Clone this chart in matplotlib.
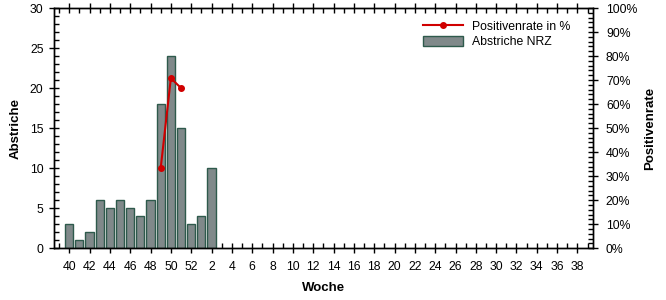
import numpy as np
import matplotlib
matplotlib.use("Agg")
import matplotlib.pyplot as plt
from matplotlib.ticker import MultipleLocator, FixedLocator, FuncFormatter

plt.rcParams['font.family'] = ['Liberation Sans', 'DejaVu Sans']

# weeks 40..52 then 1..39
weeks = list(range(40, 53)) + list(range(1, 40))
abstriche = [3, 1, 2, 6, 5, 6, 5, 4, 6, 18, 24, 15, 3, 4, 10]
rate_weeks = [49, 50, 51]
rate_pct = [33.3, 70.8, 66.7]

idx = np.arange(len(weeks))
rate_idx = [weeks.index(w) for w in rate_weeks]

fig = plt.figure(figsize=(6.66, 3.0), dpi=100)
ax = fig.add_axes([0.081, 0.173, 0.809, 0.8])
ax2 = ax.twinx()

bars = ax.bar(idx[:len(abstriche)], abstriche, width=0.8, color='#80898a',
              edgecolor='#2e5a4c', linewidth=1.0, label='Abstriche NRZ', zorder=2)
line, = ax2.plot(rate_idx, rate_pct, color='#d00000', lw=1.5, marker='o',
                 markersize=4, label='Positivenrate in %', zorder=3)

ax.set_xlim(-1.5, 51.5)
ax.set_ylim(0, 30)
ax2.set_ylim(0, 100)

ax.yaxis.set_major_locator(MultipleLocator(5))
ax.yaxis.set_minor_locator(MultipleLocator(1))
ax2.yaxis.set_major_locator(MultipleLocator(10))
ax2.yaxis.set_minor_locator(MultipleLocator(2))
ax2.yaxis.set_major_formatter(FuncFormatter(lambda v, p: f"{v:.0f}%"))

major_x = idx[::2]
ax.xaxis.set_major_locator(FixedLocator(major_x))
ax.xaxis.set_minor_locator(FixedLocator(np.arange(-1, 52)))
ax.set_xticklabels([str(weeks[i]) for i in major_x])

ax.tick_params(axis='both', which='major', direction='inout', length=7,
               width=1, labelsize=8.8, pad=4, top=True)
ax.tick_params(axis='both', which='minor', direction='in', length=3.5,
               width=1, top=True)
ax.tick_params(axis='x', which='major', pad=6)
ax2.tick_params(axis='y', which='major', direction='inout', length=7,
                width=1, labelsize=8.8, pad=6)
ax2.tick_params(axis='y', which='minor', direction='in', length=3.5, width=1)

for a in (ax, ax2):
    for s in a.spines.values():
        s.set_linewidth(1.0)

ax.set_ylabel('Abstriche', fontsize=9.5, fontweight='bold', labelpad=6)
ax2.set_ylabel('Positivenrate', fontsize=9.5, fontweight='bold', labelpad=5)
ax.set_xlabel('Woche', fontsize=9.5, fontweight='bold', labelpad=6)

ax2.legend([line, bars], ['Positivenrate in %', 'Abstriche NRZ'],
           loc='upper right', bbox_to_anchor=(0.975, 0.985), frameon=False,
           fontsize=8.8, handlelength=3.2, handleheight=0.9,
           borderpad=0.2, labelspacing=0.3)

fig.savefig('out.png', dpi=100)
